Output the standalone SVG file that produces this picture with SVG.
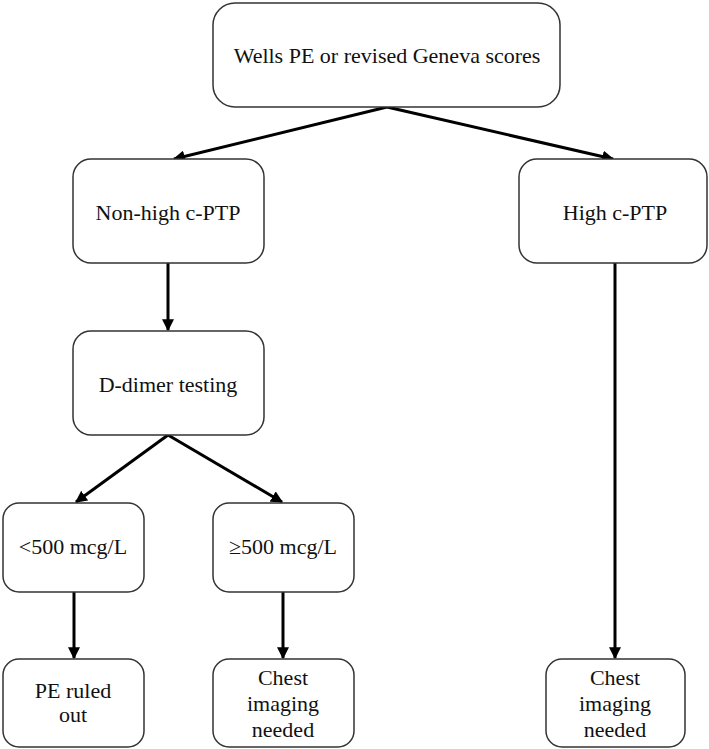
<svg xmlns="http://www.w3.org/2000/svg" width="709" height="749" viewBox="0 0 709 749">
<style>
.box{fill:#fff;stroke:#333;stroke-width:1.5}
.t{font-family:'Liberation Serif','DejaVu Serif',serif;font-size:22px;fill:#111;text-anchor:middle}
.c{stroke:#000;stroke-width:3;fill:none;marker-end:url(#ah)}
</style>
<defs>
<marker id="ah" viewBox="0 0 10 10" refX="9" refY="5" markerWidth="4" markerHeight="4" orient="auto" markerUnits="strokeWidth">
<path d="M0,0 L10,5 L0,10 z" fill="#000"/>
</marker>
</defs>
<rect width="709" height="749" fill="#fff"/>
<g id="connectors">
<line class="c" x1="387" y1="107" x2="174" y2="159"/>
<line class="c" x1="387" y1="107" x2="613" y2="159"/>
<line class="c" x1="168" y1="263" x2="168" y2="330"/>
<line class="c" x1="168" y1="435" x2="76" y2="502"/>
<line class="c" x1="168" y1="435" x2="282" y2="502"/>
<line class="c" x1="74" y1="592" x2="74" y2="658"/>
<line class="c" x1="283" y1="592" x2="283" y2="658"/>
<line class="c" x1="615" y1="263" x2="615" y2="658"/>
</g>
<g id="wells"><rect class="box" x="213" y="3" width="347" height="104" rx="22"/><text class="t" x="387" y="63">Wells PE or revised Geneva scores</text></g>
<g id="nonhigh"><rect class="box" x="73" y="159" width="191" height="104" rx="18"/><text class="t" x="168" y="220">Non-high c-PTP</text></g>
<g id="high"><rect class="box" x="519" y="159" width="188" height="104" rx="18"/><text class="t" x="615" y="220">High c-PTP</text></g>
<g id="ddimer"><rect class="box" x="73" y="331" width="191" height="104" rx="18"/><text class="t" x="168" y="392">D-dimer testing</text></g>
<g id="lt500"><rect class="box" x="3" y="503" width="141" height="89" rx="16"/><text class="t" x="73" y="554">&lt;500 mcg/L</text></g>
<g id="ge500"><rect class="box" x="213" y="503" width="141" height="89" rx="16"/><text class="t" x="283" y="554">≥500 mcg/L</text></g>
<g id="ruledout"><rect class="box" x="3" y="659" width="141" height="88" rx="16"/><text class="t" x="73" y="698">PE ruled</text><text class="t" x="73" y="722">out</text></g>
<g id="chest1"><rect class="box" x="213" y="659" width="141" height="88" rx="16"/><text class="t" x="283" y="685">Chest</text><text class="t" x="283" y="711">imaging</text><text class="t" x="283" y="737">needed</text></g>
<g id="chest2"><rect class="box" x="546" y="659" width="139" height="88" rx="16"/><text class="t" x="615" y="685">Chest</text><text class="t" x="615" y="711">imaging</text><text class="t" x="615" y="737">needed</text></g>
</svg>
